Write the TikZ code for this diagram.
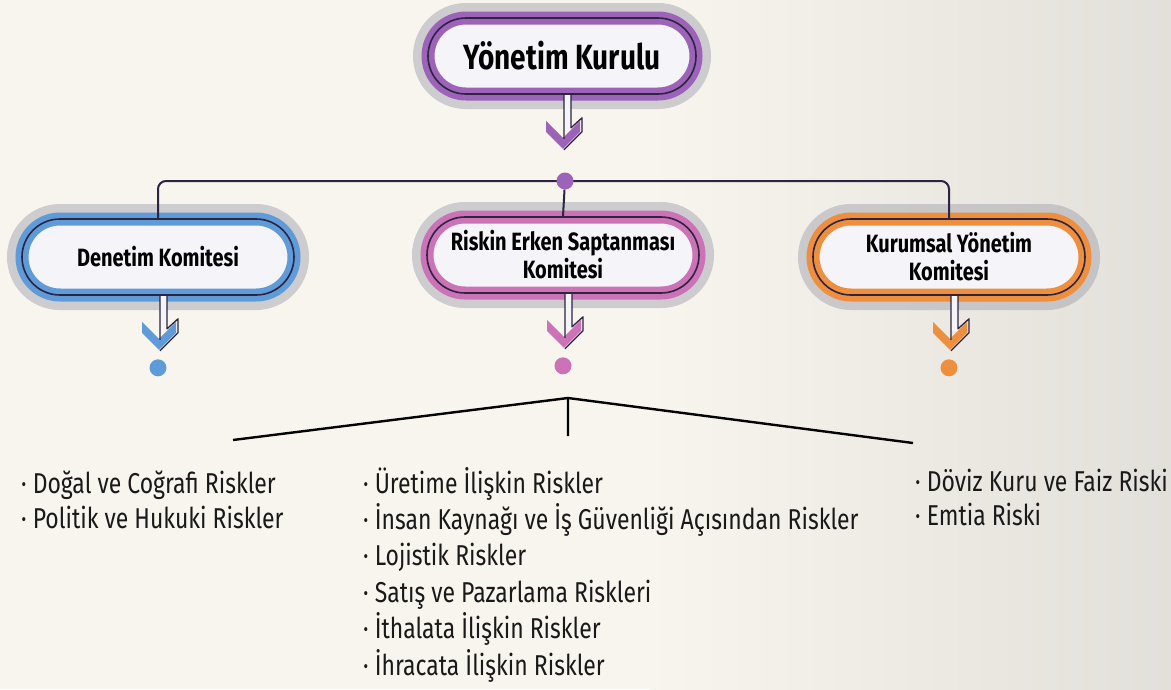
\documentclass[tikz,border=0pt]{standalone}
\usepackage{fontspec}
\usetikzlibrary{shapes.misc,calc}
\newfontfamily\boxfont[FakeStretch=0.8]{Fira Sans}
\newfontfamily\listfont[FakeStretch=0.8]{Fira Sans}
\definecolor{bgcream}{HTML}{F8F5EE}
\definecolor{purp}{HTML}{9D63B8}
\definecolor{blu}{HTML}{5E9BD8}
\definecolor{pnk}{HTML}{CC72B6}
\definecolor{orng}{HTML}{EE8F3F}
\definecolor{darkline}{HTML}{2C2440}
\definecolor{halo}{HTML}{A4A4B0}
\definecolor{boxfill}{HTML}{F5F5F9}
\tikzset{
  pill/.style={rounded rectangle, minimum width=272, minimum height=76, inner sep=0, align=center,
    font=\boxfont\bfseries\fontsize{25}{28}\selectfont,
    preaction={draw=halo, line width=30, opacity=.5},
    preaction={fill=boxfill},
    preaction={draw=#1, line width=13},
    draw=darkline, line width=1.6},
  dot/.style={circle, fill=#1, minimum size=17, inner sep=0},
  bus/.style={draw=darkline, line width=2, rounded corners=8},
  fanline/.style={draw=black, line width=2.4},
  item/.style={anchor=base west, inner sep=0, font=\listfont\fontsize{28.7}{32}\selectfont, text=black!90},
}

\begin{document}
\begin{tikzpicture}[x=1pt, y=-1pt]
    \fill[bgcream] (0,0) rectangle (1171,689);
    \shade[left color=bgcream, right color=bgcream!82!gray] (650,0) rectangle (1171,689);
    \useasboundingbox (0,0) rectangle (1171,689);

    % boxes
    \node[pill=purp, minimum width=268, font=\boxfont\bfseries\fontsize{35}{40}\selectfont] (yk) at (562,56) {Yönetim Kurulu};
    \node[pill=blu] (den) at (158,257) {Denetim Komitesi};
    \node[pill=pnk] (risk) at (563,255) {Riskin Erken Saptanması\\Komitesi};
    \node[pill=orng] (kur) at (949,257) {Kurumsal Yönetim\\Komitesi};

    % bus line
    \coordinate (hubc) at (565,181);
    \draw[bus] (den.north) |- (hubc) -| (kur.north);
    \node[dot=purp] (hub) at (hubc) {};
    \draw[bus] (hub) -- (risk.north);

    % arrows under the boxes
    \foreach \b/\col in {yk/purp, den/blu, risk/pnk, kur/orng}{
        \begin{scope}[shift={(\b.south)}]
            \fill[\col] (-16,26) -- (1,43) -- (18,26) -- (18,37) -- (1,54) -- (-16,37) -- cycle;
            \fill[boxfill] (2,0) rectangle (9,35);
            \draw[darkline, line width=1.3, line join=round] (2,-1) -- (2,44) (9,-1) -- (9,33) -- (20,23) -- (20,37) -- (2,55);
        \end{scope}
    }
    \foreach \b/\col in {den/blu, risk/pnk, kur/orng}
        \node[dot=\col] (\b-dot) at ($(\b.south)+(0,72)$) {};

    % fan to the lists
    \coordinate (fan) at (568,398);
    \coordinate (fanL) at (233,440);
    \coordinate (fanM) at (568,436);
    \coordinate (fanR) at (913,443);
    \draw[fanline] (fanL) -- (fan) -- (fanR) (fan) -- (fanM);

    % lists
    \foreach \t [count=\i from 0] in {Doğal ve Coğrafi Riskler, Politik ve Hukuki Riskler}
        \node[item] (left\i) at (21,493+35*\i) {· \t};
    \foreach \t [count=\i from 0] in {Üretime İlişkin Riskler, İnsan Kaynağı ve İş Güvenliği Açısından Riskler, Lojistik Riskler, Satış ve Pazarlama Riskleri, İthalata İlişkin Riskler, İhracata İlişkin Riskler}
        \node[item] (mid\i) at (363,493+36.4*\i) {· \t};
    \foreach \t [count=\i from 0] in {Döviz Kuru ve Faiz Riski, Emtia Riski}
        \node[item] (right\i) at (915,491+34*\i) {· \t};
\end{tikzpicture}
\end{document}
